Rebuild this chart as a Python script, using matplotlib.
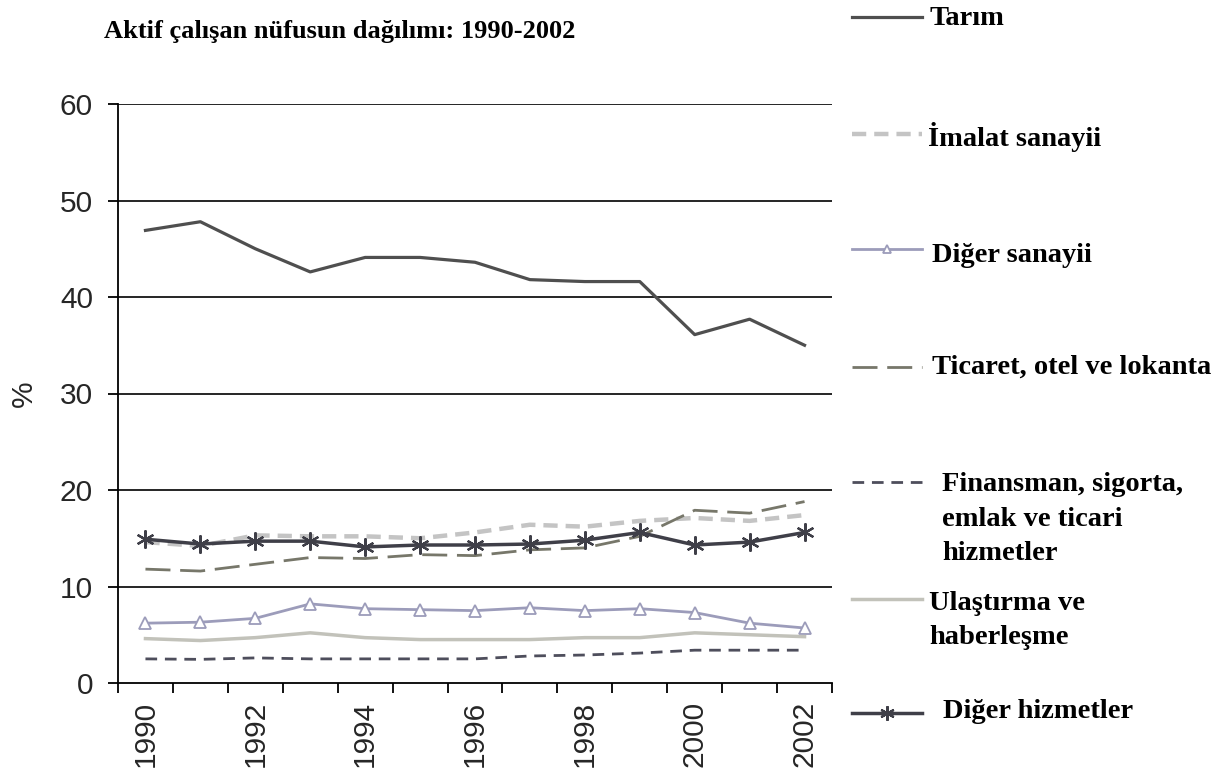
import matplotlib
matplotlib.use("Agg")
import matplotlib.pyplot as plt
from matplotlib.lines import Line2D
import numpy as np

years = [1990, 1991, 1992, 1993, 1994, 1995, 1996, 1997, 1998, 1999, 2000, 2001, 2002]
tarim = [46.9, 47.8, 45.0, 42.6, 44.1, 44.1, 43.6, 41.8, 41.6, 41.6, 36.1, 37.7, 35.0]
imalat = [14.6, 14.2, 15.3, 15.2, 15.2, 15.0, 15.6, 16.4, 16.2, 16.8, 17.1, 16.8, 17.4]
diger_sanayi = [6.2, 6.3, 6.7, 8.2, 7.7, 7.6, 7.5, 7.8, 7.5, 7.7, 7.3, 6.2, 5.7]
ticaret = [11.8, 11.6, 12.3, 13.0, 12.9, 13.3, 13.2, 13.8, 14.0, 15.2, 17.9, 17.6, 18.8]
finansman = [2.5, 2.45, 2.6, 2.5, 2.5, 2.5, 2.5, 2.8, 2.9, 3.1, 3.4, 3.4, 3.4]
ulastirma = [4.6, 4.4, 4.7, 5.2, 4.7, 4.5, 4.5, 4.5, 4.7, 4.7, 5.2, 5.0, 4.8]
diger_hizmet = [14.9, 14.4, 14.7, 14.7, 14.1, 14.3, 14.3, 14.4, 14.8, 15.6, 14.3, 14.6, 15.6]

labels = ["Tarım", "İmalat sanayii", "Diğer sanayii", "Ticaret, otel ve lokanta",
          "Finansman, sigorta,\nemlak ve ticari\nhizmetler", "Ulaştırma ve\nhaberleşme",
          "Diğer hizmetler"]
title = "Aktif çalışan nüfusun dağılımı: 1990-2002"
ylabel = "%"

W, H = 1229, 783
fig = plt.figure(figsize=(W / 100, H / 100), dpi=100)
ax = fig.add_axes([118 / W, 1 - 683 / H, (832 - 118) / W, (683 - 104) / H])

x = np.arange(len(years))

styles = [
    dict(color="#4f4f4f", lw=2.3, ls="-"),
    dict(color="#c4c4c4", lw=3.2, ls=(0, (3.2, 1.8))),
    dict(color="#9c9cba", lw=2.0, ls="-", marker="^", ms=8, mfc="white", mec="#9c9cba", mew=1.3),
    dict(color="#77776a", lw=2.0, ls=(0, (9, 3.5))),
    dict(color="#4e4e5c", lw=2.0, ls=(0, (4.2, 2.8))),
    dict(color="#c2c2ba", lw=2.5, ls="-"),
    dict(color="#3f3f48", lw=2.5, ls="-", marker=(6, 2, 0), ms=13, mew=1.6, mec="#3f3f48"),
]
series = [tarim, imalat, diger_sanayi, ticaret, finansman, ulastirma, diger_hizmet]
order = [5, 4, 1, 3, 2, 6, 0]
for i in order:
    ax.plot(x, series[i], **styles[i], zorder=3 + i * 0.1)

ax.set_xlim(-0.5, len(years) - 0.5)
ax.set_ylim(0, 60)
ax.set_yticks(np.arange(0, 61, 10))
for yv in np.arange(10, 61, 10):
    ax.axhline(yv, color="black", lw=1.2, zorder=1)
ax.set_xticks(x[::2])
ax.set_xticklabels([str(y) for y in years[::2]], rotation=90)
ax.set_xticks(np.arange(-0.5, len(years), 1), minor=True)
ax.tick_params(axis="x", which="major", length=0, pad=13, labelsize=21.5)
ax.tick_params(axis="x", which="minor", length=7, width=1.3, direction="out", color="black")
ax.tick_params(axis="y", length=7, width=1.3, direction="out", labelsize=21.5, pad=11)
for lab in ax.get_xticklabels() + ax.get_yticklabels():
    lab.set_fontfamily("Liberation Sans")
    lab.set_color("#262626")
ax.set_ylabel(ylabel, fontsize=21.5, fontfamily="Liberation Sans", color="#262626")
ax.yaxis.set_label_coords(-0.112, 0.5)
for s in ["top", "right"]:
    ax.spines[s].set_visible(False)
for s in ["left", "bottom"]:
    ax.spines[s].set_linewidth(1.3)

fig.text(104 / W, 1 - 38 / H, title, fontsize=19, fontweight="bold",
         fontfamily="Liberation Serif", va="baseline", ha="left")

# legend (manual layout)
handle_y = [17, 134, 249, 367, 482, 599, 713]
text_base = [25, 146, 262, 374, 491, 610, 718]
text_x = [929, 928, 932, 932, 942, 929, 943]
line_step = 34.5
for i in range(len(labels)):
    yy = 1 - handle_y[i] / H
    st = dict(styles[i])
    if "marker" in st:
        st["markevery"] = [1]
        st["ms"] = st["ms"] * 0.8
    ln = Line2D([852 / W, 887 / W, 922 / W], [yy, yy, yy], transform=fig.transFigure, **st)
    fig.add_artist(ln)
    for k, part in enumerate(labels[i].split("\n")):
        fig.text(text_x[i] / W, 1 - (text_base[i] + k * line_step) / H, part, fontsize=20.5,
                 fontweight="bold", fontfamily="Liberation Serif", va="baseline", ha="left")

fig.savefig("out.png", dpi=100, facecolor="white")
